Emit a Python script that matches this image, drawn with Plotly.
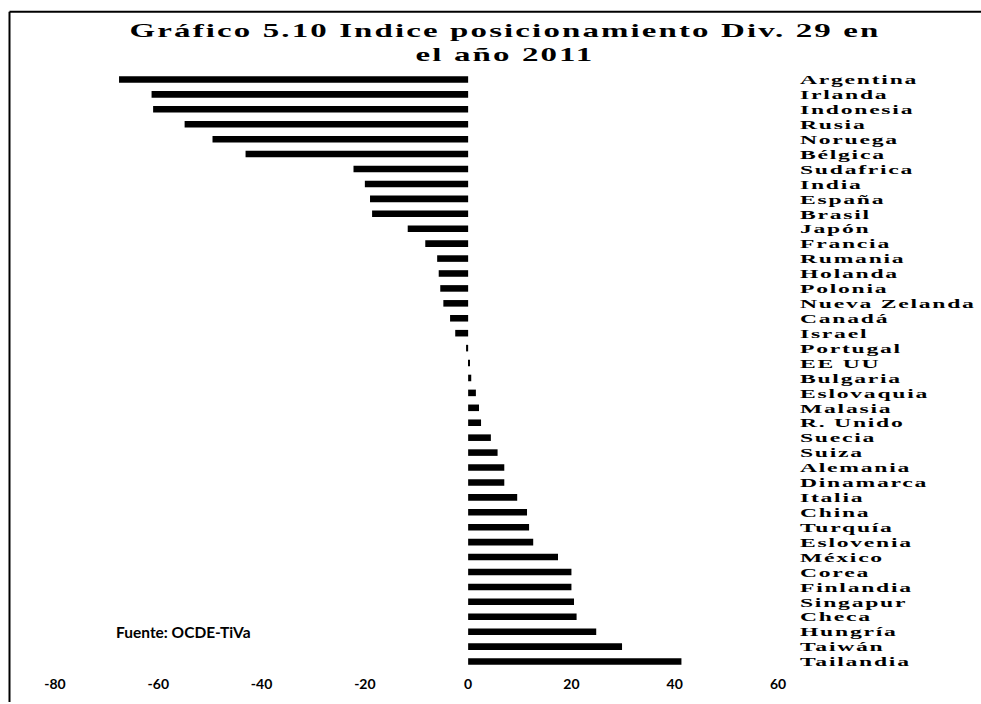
import plotly.graph_objects as go

countries = ["Argentina", "Irlanda", "Indonesia", "Rusia", "Noruega", "Bélgica",
             "Sudafrica", "India", "España", "Brasil", "Japón", "Francia",
             "Rumania", "Holanda", "Polonia", "Nueva Zelanda", "Canadá", "Israel",
             "Portugal", "EE UU", "Bulgaria", "Eslovaquia", "Malasia", "R. Unido",
             "Suecia", "Suiza", "Alemania", "Dinamarca", "Italia", "China",
             "Turquía", "Eslovenia", "México", "Corea", "Finlandia", "Singapur",
             "Checa", "Hungría", "Taiwán", "Tailandia"]
values = [-67.6, -61.3, -61.0, -54.9, -49.5, -43.1,
          -22.2, -20.0, -19.0, -18.6, -11.7, -8.3,
          -6.0, -5.7, -5.4, -4.8, -3.5, -2.5,
          -0.4, 0.3, 0.6, 1.5, 2.1, 2.5,
          4.4, 5.7, 7.0, 7.0, 9.5, 11.4,
          11.8, 12.6, 17.4, 20.0, 20.0, 20.5,
          21.0, 24.8, 29.8, 41.3]
x_ticks = [-80, -60, -40, -20, 0, 20, 40, 60]
x_tick_labels = ["-80", "-60", "-40", "-20", "0", "20", "40", "60"]
title_text = "Gráfico 5.10 Indice posicionamiento Div. 29 en<br>el año 2011"
source_text = "Fuente: OCDE-TiVa"

W, H = 981, 704
L, R, T, B = 55, 203, 71.5, 33.2
pw, ph = W - L - R, H - T - B

def px_x(p):
    return (p - L) / pw

def px_y(p):
    return 1 - (p - T) / ph

fig = go.Figure(go.Bar(
    x=values, y=countries, orientation="h",
    marker=dict(color="black", line=dict(width=0)),
    width=0.44,
))

fig.update_layout(
    width=W, height=H,
    margin=dict(l=L, r=R, t=T, b=B, pad=0),
    paper_bgcolor="white", plot_bgcolor="white",
    showlegend=False,
    title=dict(text=title_text, x=505 / W, xanchor="center",
               y=1 - 37 / H, yanchor="middle", yref="container",
               font=dict(family="Liberation Serif", size=18.5, color="black", weight="bold")),
    xaxis=dict(range=[-80, 60], tickmode="array", tickvals=x_ticks, ticktext=x_tick_labels,
               showgrid=False, zeroline=False, showline=False, ticks="",
               tickfont=dict(family="Lato", size=14, color="black", weight="bold"),
               ticklabelstandoff=5, fixedrange=True),
    yaxis=dict(tickmode="array", tickvals=countries, ticktext=countries,
               categoryorder="array", categoryarray=countries, autorange="reversed",
               side="right", showgrid=False, zeroline=False, showline=False, ticks="",
               tickfont=dict(family="Liberation Serif", size=13.5, color="black", weight="bold"),
               ticklabelstandoff=21, fixedrange=True),
    annotations=[dict(text=source_text, x=px_x(114), y=px_y(634), xref="paper", yref="paper",
                      xanchor="left", yanchor="middle", showarrow=False,
                      font=dict(family="Lato", size=15.5, color="black", weight="bold"))],
    shapes=[
        dict(type="line", xref="paper", yref="paper", x0=px_x(9.5), x1=px_x(981),
             y0=px_y(11), y1=px_y(11), line=dict(color="black", width=2)),
        dict(type="line", xref="paper", yref="paper", x0=px_x(9.5), x1=px_x(9.5),
             y0=px_y(11), y1=px_y(704), line=dict(color="black", width=2)),
    ],
)

# widen the serif texts horizontally, as in the source image
post = """
var gd = document.getElementById('{plot_id}');
function widen(t, s, ls){
  t.style.letterSpacing = ls;
  var ax = parseFloat(t.getAttribute('x')) || 0;
  var tr = t.getAttribute('transform') || '';
  t.setAttribute('transform', tr + ' translate(' + ax + ',0) scale(' + s + ',1) translate(' + (-ax) + ',0)');
}
gd.querySelectorAll('.gtitle').forEach(function(t){ widen(t, 1.78, '1.2px'); });
gd.querySelectorAll('.ytick text').forEach(function(t){ widen(t, 1.75, '1px'); });
"""

fig.write_html("out.html", post_script=post)
